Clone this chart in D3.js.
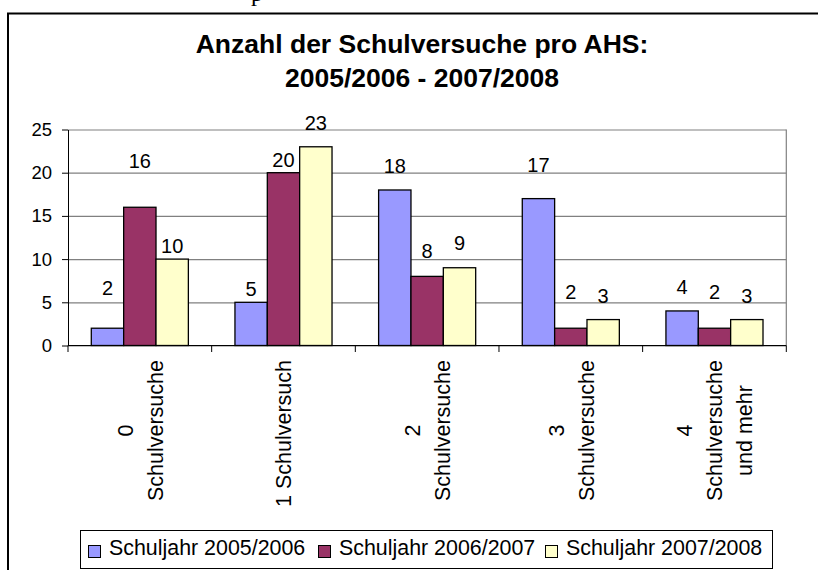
<!DOCTYPE html>
<html>
<head>
<meta charset="utf-8">
<script src="https://cdn.jsdelivr.net/npm/d3@7"></script>
<style>
  body { margin: 0; background: #fff; }
  svg { display: block; font-family: "Liberation Sans", Arial, sans-serif; }
</style>
</head>
<body>
<div id="chart"></div>
<script>
// data
var categories = ["0\nSchulversuche", "1 Schulversuch", "2\nSchulversuche", "3\nSchulversuche", "4\nSchulversuche\nund mehr"];
var seriesNames = ["Schuljahr 2005/2006", "Schuljahr 2006/2007", "Schuljahr 2007/2008"];
var values0506 = [2, 5, 18, 17, 4];
var values0607 = [16, 20, 8, 2, 2];
var values0708 = [10, 23, 9, 3, 3];
var yTicks = [0, 5, 10, 15, 20, 25];

var colors = ["#9999ff", "#993366", "#ffffcc"];
// how far (px) each value label sits above its bar, as placed in the original
var labelLift = [
  [33, 6, 17, 27, 17],
  [39, 6, 18, 29, 29],
  [6, 17, 18, 17, 17]
];

var svgWidth = 818;
var svgHeight = 570;

var plot = { left: 68, right: 786.3, top: 129.5, bottom: 345.5 };

var svg = d3.select("#chart")
  .append("svg")
  .attr("width", svgWidth)
  .attr("height", svgHeight);

svg.append("rect")
  .attr("width", svgWidth)
  .attr("height", svgHeight)
  .attr("fill", "#fff");

// bit of the document text above, cut off at the top
svg.append("text")
  .attr("x", 251)
  .attr("y", 1)
  .attr("font-family", "Liberation Serif, serif")
  .attr("font-size", 24)
  .text("p");

// outer chart frame (only top and left are in view)
svg.append("path")
  .attr("d", "M8,580 V13.5 H830")
  .attr("fill", "none")
  .attr("stroke", "#000")
  .attr("stroke-width", 2);

// title
var title = svg.append("text")
  .attr("text-anchor", "middle")
  .attr("font-size", 26.5)
  .attr("font-weight", "bold");
title.append("tspan").attr("x", 422).attr("y", 53).text("Anzahl der Schulversuche pro AHS:");
title.append("tspan").attr("x", 422).attr("y", 87).text("2005/2006 - 2007/2008");

var series = [values0506, values0607, values0708];

var x0 = d3.scaleBand()
  .domain(categories)
  .range([plot.left, plot.right])
  .padding(0);

var x1 = d3.scaleBand()
  .domain(d3.range(series.length))
  .range([0, x0.bandwidth()])
  .paddingInner(0)
  .paddingOuter(0.72);

var y = d3.scaleLinear()
  .domain([0, 25])
  .range([plot.bottom, plot.top]);

// gridlines
svg.append("g")
  .attr("transform", `translate(${plot.left},0)`)
  .call(d3.axisLeft(y).tickValues(yTicks).tickSize(-(plot.right - plot.left)).tickFormat(""))
  .call(g => g.select(".domain").remove())
  .call(g => g.selectAll("line").attr("stroke", "#808080").attr("stroke-width", 1.2));

// plot area border, right side
svg.append("line")
  .attr("x1", plot.right).attr("x2", plot.right)
  .attr("y1", plot.top).attr("y2", plot.bottom)
  .attr("stroke", "#808080")
  .attr("stroke-width", 1.2);

// bars
var groups = svg.selectAll("g.series")
  .data(series)
  .enter()
  .append("g")
  .attr("class", "series")
  .attr("fill", (d, i) => colors[i]);

groups.selectAll("rect")
  .data((d, i) => d.map((v, j) => ({ v: v, s: i, c: categories[j] })))
  .enter()
  .append("rect")
  .attr("x", d => x0(d.c) + x1(d.s))
  .attr("y", d => y(d.v))
  .attr("width", x1.bandwidth())
  .attr("height", d => y(0) - y(d.v))
  .attr("stroke", "#000")
  .attr("stroke-width", 1.3);

// value labels
groups.selectAll("text")
  .data((d, i) => d.map((v, j) => ({ v: v, s: i, j: j, c: categories[j] })))
  .enter()
  .append("text")
  .attr("x", d => x0(d.c) + x1(d.s) + x1.bandwidth() / 2)
  .attr("y", d => y(d.v) - labelLift[d.s][d.j])
  .attr("text-anchor", "middle")
  .attr("font-size", 20)
  .attr("fill", "#000")
  .text(d => d.v);

// y axis
svg.append("g")
  .attr("transform", `translate(${plot.left},0)`)
  .call(d3.axisLeft(y).tickValues(yTicks).tickSize(6).tickSizeOuter(0).tickPadding(10))
  .call(g => g.selectAll("text").attr("font-size", 18.5).attr("font-family", "Liberation Sans, Arial, sans-serif").attr("fill", "#000"))
  .call(g => g.selectAll("line").attr("stroke", "#000"))
  .call(g => g.select(".domain").attr("stroke", "#000"));

// x axis line and ticks between categories
svg.append("line")
  .attr("x1", plot.left).attr("x2", plot.right)
  .attr("y1", y(0)).attr("y2", y(0))
  .attr("stroke", "#000");

var bounds = categories.map(c => x0(c)).concat([plot.right]);
svg.selectAll("line.xtick")
  .data(bounds)
  .enter()
  .append("line")
  .attr("class", "xtick")
  .attr("x1", d => d).attr("x2", d => d)
  .attr("y1", y(0)).attr("y2", y(0) + 6.5)
  .attr("stroke", "#000");

// category labels, rotated, lines centred in a block that hangs from the axis
var catLabels = svg.selectAll("text.cat")
  .data(categories)
  .enter()
  .append("text")
  .attr("class", "cat")
  .attr("font-size", 21.5)
  .attr("text-anchor", "middle");

catLabels.each(function(c) {
  var lines = c.split("\n");
  var t = d3.select(this);
  lines.forEach(function(line, i) {
    t.append("tspan")
      .attr("x", 0)
      .attr("y", (i - (lines.length - 1) / 2) * 30 + 8)
      .text(line);
  });
  var longest = d3.max(t.selectAll("tspan").nodes(), n => n.getComputedTextLength());
  var cx = x0(c) + x0.bandwidth() / 2;
  t.attr("transform", `translate(${cx},${360 + longest / 2}) rotate(-90)`);
});

// legend
var legend = svg.append("g");
legend.append("rect")
  .attr("x", 80.5).attr("y", 530.5)
  .attr("width", 692).attr("height", 38)
  .attr("fill", "#fff")
  .attr("stroke", "#000");

var legendX = [88, 318, 545];
var items = legend.selectAll("g.item")
  .data(seriesNames)
  .enter()
  .append("g")
  .attr("class", "item")
  .attr("transform", (d, i) => `translate(${legendX[i]},0)`);

items.append("rect")
  .attr("x", 0.5).attr("y", 545.5)
  .attr("width", 12).attr("height", 12)
  .attr("fill", (d, i) => colors[i])
  .attr("stroke", "#000");

items.append("text")
  .attr("x", 21)
  .attr("y", 554.5)
  .attr("font-size", 21.4)
  .text(d => d);
</script>
</body>
</html>
